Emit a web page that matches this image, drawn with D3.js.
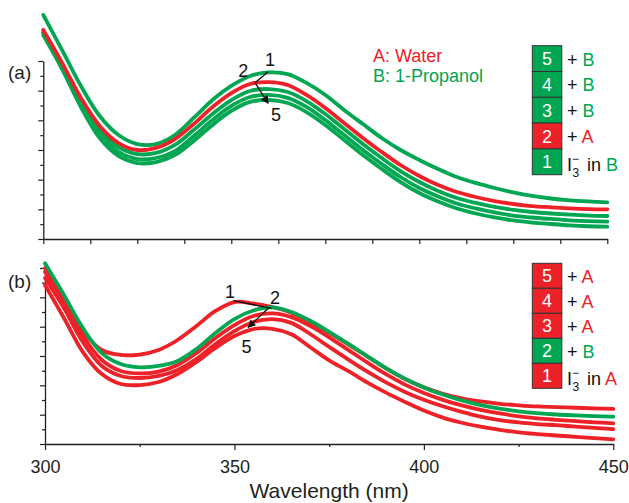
<!DOCTYPE html>
<html><head><meta charset="utf-8">
<script src="https://cdn.jsdelivr.net/npm/d3@7"></script>
<style>
body{margin:0;background:#fff;}
svg{display:block;font-family:"Liberation Sans",Arial,Helvetica,sans-serif;}
</style></head><body>
<svg id="chart" width="629" height="503"></svg>
<script>
// ---------- DATA ----------
const wavelengths = [300,305,310,315,320,325,330,335,340,345,350,355,360,365,370,375,380,385,390,395,400,405,410,415,420,425,430,435,440,445,450];

// Panel (a): I3- in 1-propanol, then additions
const topSpectrum1 = [1.510,1.274,1.032,0.829,0.701,0.640,0.640,0.701,0.816,0.937,1.032,1.099,1.123,1.112,1.052,0.971,0.870,0.775,0.681,0.600,0.533,0.472,0.418,0.378,0.344,0.314,0.290,0.273,0.261,0.253,0.247];
const topSpectrum2 = [1.409,1.187,0.951,0.762,0.647,0.600,0.614,0.674,0.775,0.890,0.984,1.045,1.058,1.038,0.971,0.883,0.782,0.681,0.587,0.499,0.425,0.364,0.317,0.283,0.256,0.236,0.222,0.214,0.207,0.202,0.200];
const topSpectrum3 = [1.396,1.173,0.930,0.735,0.620,0.573,0.580,0.634,0.735,0.843,0.937,0.998,1.011,0.991,0.930,0.843,0.742,0.640,0.546,0.458,0.384,0.324,0.276,0.243,0.216,0.196,0.182,0.172,0.164,0.158,0.155];
const topSpectrum4 = [1.389,1.160,0.910,0.708,0.587,0.539,0.546,0.593,0.694,0.802,0.897,0.957,0.971,0.951,0.890,0.802,0.701,0.600,0.506,0.418,0.344,0.287,0.239,0.206,0.179,0.158,0.145,0.135,0.126,0.120,0.117];
const topSpectrum5 = [1.375,1.146,0.890,0.681,0.560,0.512,0.519,0.566,0.661,0.769,0.863,0.924,0.937,0.917,0.856,0.769,0.667,0.566,0.472,0.384,0.310,0.253,0.206,0.172,0.145,0.125,0.111,0.101,0.092,0.086,0.083];

// Panel (b): I3- in water, then additions
const bottomSpectrum1 = [1.200,0.995,0.770,0.641,0.607,0.610,0.641,0.709,0.805,0.907,0.968,0.958,0.934,0.895,0.832,0.757,0.680,0.598,0.515,0.443,0.386,0.342,0.311,0.290,0.274,0.264,0.256,0.252,0.247,0.243,0.239];
const bottomSpectrum2 = [1.232,1.016,0.791,0.620,0.545,0.523,0.532,0.566,0.648,0.757,0.852,0.910,0.931,0.900,0.840,0.765,0.684,0.600,0.518,0.446,0.386,0.337,0.297,0.265,0.241,0.223,0.210,0.201,0.195,0.190,0.186];
const bottomSpectrum3 = [1.173,0.968,0.736,0.573,0.498,0.481,0.494,0.539,0.620,0.723,0.811,0.873,0.890,0.865,0.805,0.727,0.642,0.557,0.476,0.405,0.348,0.301,0.263,0.232,0.208,0.189,0.175,0.165,0.156,0.148,0.141];
const bottomSpectrum4 = [1.132,0.927,0.695,0.532,0.464,0.450,0.464,0.505,0.580,0.682,0.770,0.832,0.852,0.826,0.750,0.662,0.577,0.495,0.420,0.355,0.302,0.257,0.219,0.186,0.163,0.147,0.136,0.128,0.119,0.110,0.102];
const bottomSpectrum5 = [1.084,0.859,0.627,0.477,0.409,0.402,0.423,0.477,0.559,0.655,0.736,0.784,0.785,0.748,0.660,0.570,0.498,0.420,0.350,0.287,0.228,0.180,0.145,0.118,0.097,0.080,0.068,0.058,0.049,0.040,0.032];

// Solvent of each spectrum (index 0 = spectrum 1)
const topSolvents = ["B","A","B","B","B"];
const bottomSolvents = ["A","B","A","A","A"];
const solventNames = {A: "A: Water", B: "B: 1-Propanol"};

// Axis ticks
const topXTicks = [300,312.5,325,337.5,350,362.5,375,387.5,400,412.5,425,437.5,450];
const bottomXMajor = [300,350,400,450];
const bottomXMinor = [325,375,425];
const yMajor = [0,0.2,0.4,0.6,0.8,1.0,1.2];
const yMinor = [0.1,0.3,0.5,0.7,0.9,1.1];
const xTitle = "Wavelength (nm)";

// Annotation anchors (wavelength, absorbance)
const topLabels = [{t:"1", w:360.3, v:1.209},{t:"2", w:353.2, v:1.133},{t:"5", w:361.9, v:0.836}];
const topLeader = [[359.8,1.128],[356.3,1.054]];
const topArrow = [[356.3,1.054],[359.8,0.915]];
const bottomLabels = [{t:"1", w:348.8, v:1.043},{t:"2", w:360.7, v:0.999},{t:"5", w:353.2, v:0.668}];
const bottomLeader = [[349.7,0.977],[359.8,0.925]];
const bottomArrow = [[358.9,0.925],[353.6,0.795]];

// ---------- STYLE ----------
const RED = "#ED2228", GREEN = "#00A651", AXIS = "#231f20";
const col = s => s === "A" ? RED : GREEN;

const svg = d3.select("#chart");
const defs = svg.append("defs");
defs.append("marker").attr("id","ah").attr("viewBox","0 0 10 10")
  .attr("refX",9).attr("refY",5).attr("markerWidth",9).attr("markerHeight",8)
  .attr("markerUnits","userSpaceOnUse").attr("orient","auto")
  .append("path").attr("d","M0,0 L10,5 L0,10 Z").attr("fill","#111");

const panels = [
  {label:"(a)", series:[topSpectrum1,topSpectrum2,topSpectrum3,topSpectrum4,topSpectrum5], solvents:topSolvents,
   xr:[43.3,607.3], yr:[239,61], labels:topLabels, leader:topLeader, arrow:topArrow,
   legendTop:45.7, rowH:25.8, labelY:78.5, names:true, bottomAxis:false},
  {label:"(b)", series:[bottomSpectrum1,bottomSpectrum2,bottomSpectrum3,bottomSpectrum4,bottomSpectrum5], solvents:bottomSolvents,
   xr:[45,613.3], yr:[444,268], labels:bottomLabels, leader:bottomLeader, arrow:bottomArrow,
   legendTop:263.3, rowH:25, labelY:287.5, names:false, bottomAxis:true}
];

panels.forEach(p => {
  const x = d3.scaleLinear().domain([300,450]).range(p.xr);
  const y = d3.scaleLinear().domain([0,1.2]).range(p.yr);
  const g = svg.append("g");

  // axes
  const yAxisMaj = d3.axisLeft(y).tickValues(yMajor).tickSize(5).tickSizeOuter(0).tickFormat("");
  const yAxisMin = d3.axisLeft(y).tickValues(yMinor).tickSize(3).tickSizeOuter(0).tickFormat("");
  g.append("g").attr("transform",`translate(${p.xr[0]},0)`).call(yAxisMaj);
  g.append("g").attr("transform",`translate(${p.xr[0]},0)`).call(yAxisMin).select(".domain").remove();

  if (!p.bottomAxis) {
    g.append("g").attr("transform",`translate(0,${p.yr[0]})`)
      .call(d3.axisBottom(x).tickValues(topXTicks).tickSize(5).tickSizeOuter(0).tickFormat(""));
  } else {
    g.append("g").attr("transform",`translate(0,${p.yr[0]})`)
      .call(d3.axisBottom(x).tickValues(bottomXMajor).tickSize(6).tickPadding(10).tickSizeOuter(0).tickFormat(d3.format("d")))
      .call(a => a.selectAll("text").attr("font-size",18).attr("fill",AXIS).attr("font-family","Liberation Sans, Arial, sans-serif"));
    g.append("g").attr("transform",`translate(0,${p.yr[0]})`)
      .call(d3.axisBottom(x).tickValues(bottomXMinor).tickSize(3).tickSizeOuter(0).tickFormat(""))
      .select(".domain").remove();
    g.append("text").attr("x",(p.xr[0]+p.xr[1])/2).attr("y",498)
      .attr("text-anchor","middle").attr("font-size",21).attr("fill",AXIS).text(xTitle);
  }
  g.selectAll(".domain").attr("stroke",AXIS).attr("stroke-width",1.3);
  g.selectAll(".tick line").attr("stroke",AXIS).attr("stroke-width",1.2);

  // curves: spectrum 1 first, then 5,4,3, then 2
  const line = d3.line().x((d,i)=>x(wavelengths[i])).y(d=>y(d)).curve(d3.curveCatmullRom.alpha(0.5));
  [0,4,3,2,1].forEach(k => {
    g.append("path").datum(p.series[k]).attr("d",line)
      .attr("fill","none").attr("stroke",col(p.solvents[k])).attr("stroke-width",3.8)
      .attr("stroke-linejoin","round").attr("stroke-linecap","round");
  });

  // annotations
  p.labels.forEach(l => g.append("text").attr("x",x(l.w)).attr("y",y(l.v)+6.5)
    .attr("text-anchor","middle").attr("font-size",18).attr("fill","#111").text(l.t));
  g.append("line").attr("x1",x(p.leader[0][0])).attr("y1",y(p.leader[0][1]))
    .attr("x2",x(p.leader[1][0])).attr("y2",y(p.leader[1][1])).attr("stroke","#111").attr("stroke-width",1.3);
  g.append("line").attr("x1",x(p.arrow[0][0])).attr("y1",y(p.arrow[0][1]))
    .attr("x2",x(p.arrow[1][0])).attr("y2",y(p.arrow[1][1])).attr("stroke","#111").attr("stroke-width",1.3)
    .attr("marker-end","url(#ah)");

  // panel label
  g.append("text").attr("x",8).attr("y",p.labelY).attr("font-size",19).attr("fill",AXIS).text(p.label);

  // solvent names
  if (p.names) {
    g.append("text").attr("x",373).attr("y",61.7).attr("font-size",18).attr("fill",RED).text(solventNames.A);
    g.append("text").attr("x",373).attr("y",82.3).attr("font-size",18).attr("fill",GREEN).text(solventNames.B);
  }

  // legend (5 at top, 1 at bottom)
  const order = [4,3,2,1,0];
  order.forEach((k,row) => {
    const y0 = p.legendTop + row*p.rowH, cy = y0 + p.rowH/2;
    const s = p.solvents[k];
    g.append("rect").attr("x",532.3).attr("y",y0).attr("width",29.5).attr("height",p.rowH)
      .attr("fill",col(s)).attr("stroke","#333").attr("stroke-width",1);
    g.append("text").attr("x",547).attr("y",cy+6.5).attr("text-anchor","middle")
      .attr("font-size",18).attr("fill","#fff").text(k+1);
    if (k > 0) {
      const t = g.append("text").attr("x",567).attr("y",cy+7).attr("font-size",18).attr("fill","#111");
      t.append("tspan").text("+ ");
      t.append("tspan").attr("fill",col(s)).text(s);
    } else {
      const by = cy + 9.5;
      g.append("text").attr("x",567).attr("y",by).attr("font-size",18).attr("fill","#111").text("I");
      g.append("text").attr("x",572.5).attr("y",by+6).attr("font-size",12).attr("fill","#111").text("3");
      g.append("text").attr("x",572).attr("y",by-8).attr("font-size",12).attr("fill","#111").text("\u2212");
      const t = g.append("text").attr("x",587).attr("y",by).attr("font-size",18).attr("fill","#111");
      t.append("tspan").text("in ");
      t.append("tspan").attr("fill",col(s)).text(s);
    }
  });
});
</script>
</body></html>
